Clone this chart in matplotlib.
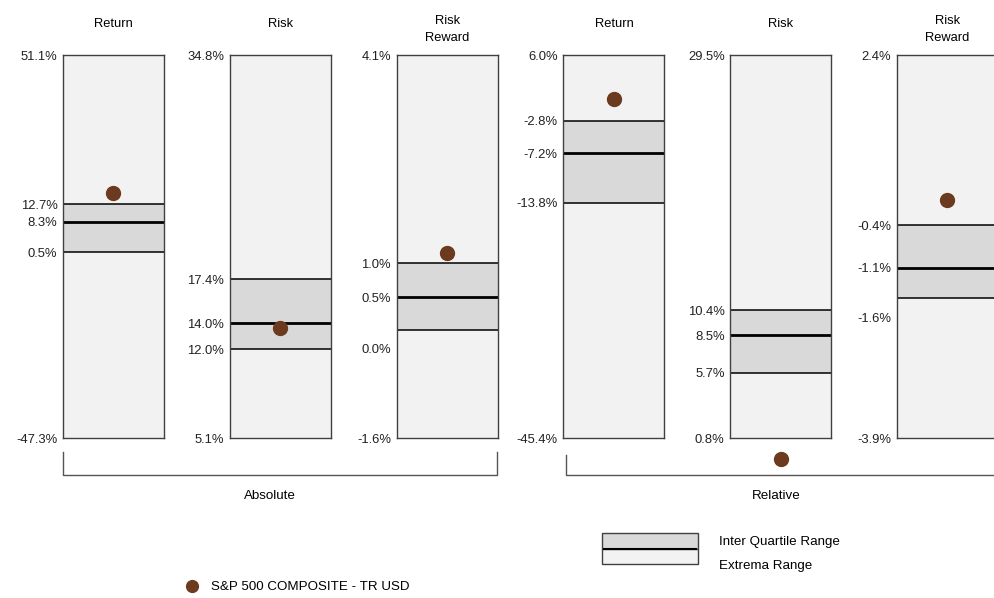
import matplotlib.pyplot as plt
from matplotlib.patches import Rectangle
from matplotlib.lines import Line2D

plt.rcParams["font.family"] = ["Liberation Sans", "DejaVu Sans"]

# values in percent, one entry per panel
groups = ["Absolute", "Absolute", "Absolute", "Relative", "Relative", "Relative"]
metrics = ["Return", "Risk", "Risk\nReward", "Return", "Risk", "Risk\nReward"]
max_vals = [51.1, 34.8, 4.1, 6.0, 29.5, 2.4]
q3_vals = [12.7, 17.4, 1.0, -2.8, 10.4, -0.4]
median_vals = [8.3, 14.0, 0.5, -7.2, 8.5, -1.1]
q1_vals = [0.5, 12.0, 0.0, -13.8, 5.7, -1.6]
min_vals = [-47.3, 5.1, -1.6, -45.4, 0.8, -3.9]
index_vals = [15.6, 13.6, 1.15, 0.1, -0.8, 0.02]
index_name = "S&P 500 COMPOSITE - TR USD"

EXTREMA_COLOR = "#f2f2f2"
IQR_COLOR = "#d9d9d9"
EDGE_COLOR = "#404040"
DOT_COLOR = "#6b3a1f"

W, H = 995, 598
fig = plt.figure(figsize=(W / 100, H / 100), dpi=100)


def fx(px):
    return px / W


def fy(py):
    return 1 - py / H


# q1 labels that get pushed down to avoid crowding (points)
label_nudge = {2: -13, 5: -13.5}

axes = []
for i in range(len(metrics)):
    left = 63 + 166.8 * i
    ax = fig.add_axes([fx(left), fy(438), fx(101), 383 / H])
    ax.set_facecolor(EXTREMA_COLOR)
    ax.set_ylim(min_vals[i], max_vals[i])
    ax.set_xlim(0, 1)
    ax.set_xticks([])
    ax.set_yticks([])
    for sp in ax.spines.values():
        sp.set_color(EDGE_COLOR)
        sp.set_linewidth(1.0)

    ax.axhspan(q1_vals[i], q3_vals[i], color=IQR_COLOR, lw=0)
    ax.axhline(q3_vals[i], color="black", lw=1.1)
    ax.axhline(q1_vals[i], color="black", lw=1.1)
    ax.axhline(median_vals[i], color="black", lw=2.0)
    ax.plot([0.5], [index_vals[i]], "o", color=DOT_COLOR, ms=10, clip_on=False, zorder=5)

    vals = [max_vals[i], q3_vals[i], median_vals[i], q1_vals[i], min_vals[i]]
    for k, v in enumerate(vals):
        dy = label_nudge.get(i, 0) if k == 3 else 0
        ax.annotate(f"{v:.1f}%", xy=(0, v), xycoords=("axes fraction", "data"),
                    xytext=(-4, dy - 1.2), textcoords="offset points",
                    ha="right", va="center", fontsize=9.4, color="#222222")

    title_off = 18.5 if "\n" in metrics[i] else 22.2
    ax.annotate(metrics[i], xy=(0.5, 1), xycoords="axes fraction",
                xytext=(0, title_off), textcoords="offset points",
                ha="center", va="center", fontsize=9.3, linespacing=1.55)
    axes.append(ax)

# group brackets
bracket_color = "#555555"
for g, x0, x1, ytop, lx in [("Absolute", 63, 497, 452, 270), ("Relative", 566, 998, 455, 776)]:
    fig.add_artist(Line2D([fx(x0), fx(x0), fx(x1), fx(x1)], [fy(ytop), fy(475), fy(475), fy(ytop)],
                          color=bracket_color, lw=1.0))
    fig.text(fx(lx), fy(496), g, ha="center", va="center", fontsize=9.6)

# legend: range box
fig.add_artist(Rectangle((fx(602), fy(549)), fx(96), 16 / H, facecolor=IQR_COLOR,
                         edgecolor=EDGE_COLOR, lw=1.0))
fig.add_artist(Rectangle((fx(602), fy(564)), fx(96), 15 / H, facecolor=EXTREMA_COLOR,
                         edgecolor=EDGE_COLOR, lw=1.0))
fig.add_artist(Line2D([fx(602.5), fx(697.5)], [fy(549), fy(549)], color="black", lw=1.5,
                      solid_capstyle="butt"))
fig.text(fx(719), fy(542.5), "Inter Quartile Range", ha="left", va="center", fontsize=9.6)
fig.text(fx(719), fy(565.5), "Extrema Range", ha="left", va="center", fontsize=9.6)

# legend: index dot
fig.add_artist(Line2D([fx(192)], [fy(585.5)], marker="o", color=DOT_COLOR, ms=8.5, lw=0))
fig.text(fx(211), fy(586.5), index_name, ha="left", va="center", fontsize=9.6)

fig.savefig("out.png", dpi=100)
